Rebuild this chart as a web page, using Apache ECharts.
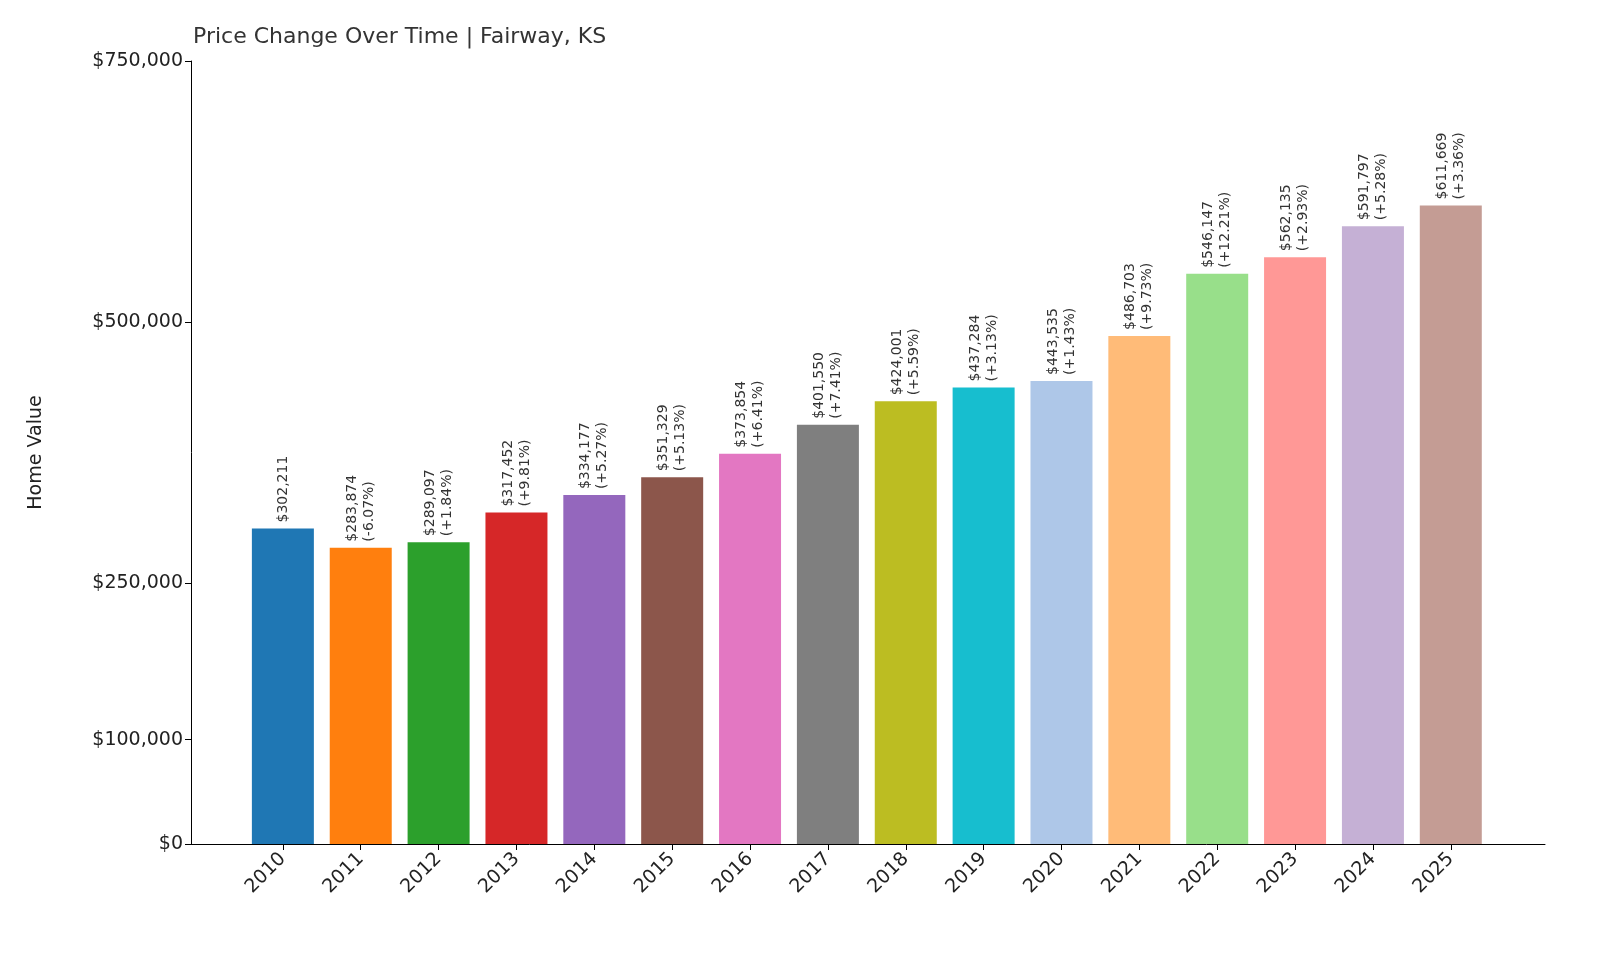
<!DOCTYPE html>
<html><head><meta charset="utf-8">
<script src="https://cdn.jsdelivr.net/npm/echarts@6/dist/echarts.min.js"></script>
<style>html,body{margin:0;background:#fff}#c{width:1600px;height:960px}</style>
</head><body><div id="c"></div>
<script>
var years = ['2010','2011','2012','2013','2014','2015','2016','2017','2018','2019','2020','2021','2022','2023','2024','2025'];
var values = [302211,283874,289097,317452,334177,351329,373854,401550,424001,437284,443535,486703,546147,562135,591797,611669];
var changes = ['','-6.07%','+1.84%','+9.81%','+5.27%','+5.13%','+6.41%','+7.41%','+5.59%','+3.13%','+1.43%','+9.73%','+12.21%','+2.93%','+5.28%','+3.36%'];
var colors = ['#1f77b4','#ff7f0e','#2ca02c','#d62728','#9467bd','#8c564b','#e377c2','#7f7f7f','#bcbd22','#17becf','#aec7e8','#ffbb78','#98df8a','#ff9896','#c5b0d5','#c49c94'];
var yTicks = [0,100000,250000,500000,750000];
var xIdx = years.map(function(y,i){return i;});

var chart = echarts.init(document.getElementById('c'));
var fmt = function(v){return '$' + v.toLocaleString('en-US');};
chart.setOption({
  animation:false,
  textStyle:{fontFamily:'DejaVu Sans'},
  title:{text:'Price Change Over Time | Fairway, KS',left:188,top:21,textStyle:{fontSize:22,fontWeight:'normal',color:'#333'}},
  grid:{left:191,right:55,top:61,bottom:116,containLabel:false,outerBoundsMode:'none'},
  xAxis:{type:'value',min:-1.18,max:16.21,splitLine:{show:false},
    axisLine:{onZero:false,lineStyle:{color:'#000'}},
    axisTick:{customValues:xIdx,length:6,lineStyle:{color:'#000'}},
    axisLabel:{customValues:xIdx,rotate:45,fontSize:19,color:'#222',margin:12,
      formatter:function(v){return years[Math.round(v)];}}},
  yAxis:{type:'value',min:0,max:750000,name:'Home Value',nameLocation:'middle',nameGap:145,
    nameTextStyle:{fontSize:19,color:'#222'},splitLine:{show:false},
    axisLine:{show:true,onZero:false,lineStyle:{color:'#000'}},
    axisTick:{show:true,customValues:yTicks,length:6,lineStyle:{color:'#000'}},
    axisLabel:{customValues:yTicks,fontSize:19,color:'#222',formatter:fmt}},
  series:[{type:'bar',barWidth:62,
    data:values.map(function(v,i){return {value:[i,v],itemStyle:{color:colors[i]}};}),
    label:{show:true,position:'top',rotate:90,align:'left',verticalAlign:'middle',distance:6,
      fontSize:14,color:'#333',lineHeight:17,
      formatter:function(p){var i=p.dataIndex;return fmt(values[i])+(changes[i]?'\n('+changes[i]+')':'');}}}]
});
</script></body></html>
